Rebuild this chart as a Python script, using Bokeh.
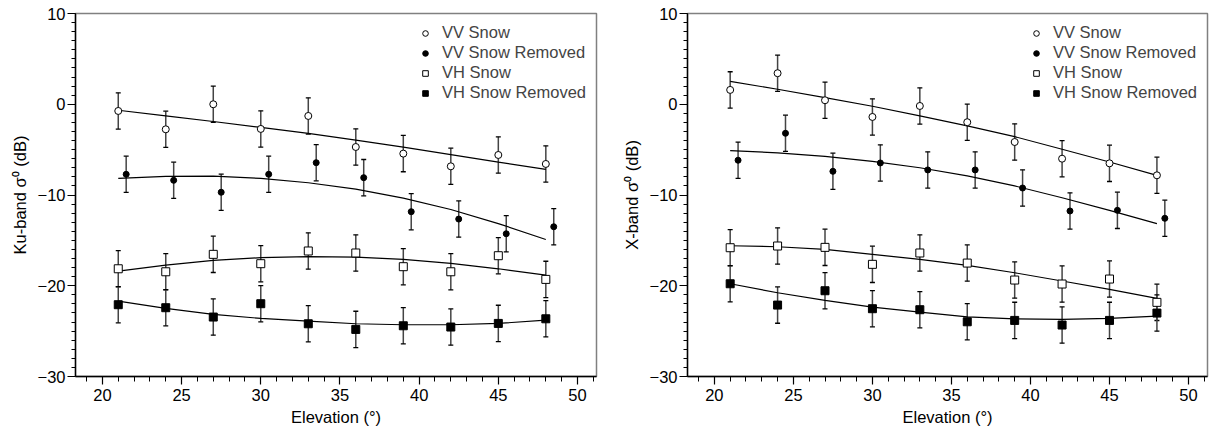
from bokeh.plotting import figure
from bokeh.layouts import row
from bokeh.models import (ColumnDataSource, Whisker, TeeHead, FixedTicker,
                          Legend, LegendItem, Range1d)
from bokeh.embed import file_html
from bokeh.resources import INLINE

# ---------------- data ----------------
elev = [21, 24, 27, 30, 33, 36, 39, 42, 45, 48]
elev_removed = [21.5, 24.5, 27.5, 30.5, 33.5, 36.5, 39.5, 42.5, 45.5, 48.5]
err = [2.0, 2.0, 2.0, 2.0, 2.0, 2.0, 2.0, 2.0, 2.0, 2.0]

# Ku-band sigma0 (dB)
ku_vv_snow = [-0.74, -2.76, 0.0, -2.72, -1.29, -4.71, -5.44, -6.84, -5.59, -6.58]
ku_vv_removed = [-7.72, -8.38, -9.70, -7.72, -6.44, -8.09, -11.84, -12.65, -14.27, -13.50]
ku_vh_snow = [-18.13, -18.46, -16.54, -17.57, -16.17, -16.39, -17.90, -18.46, -16.69, -19.30]
ku_vh_removed = [-22.09, -22.42, -23.45, -21.98, -24.19, -24.81, -24.41, -24.55, -24.15, -23.64]
# Ku-band fitted curves (read at elev)
ku_vv_snow_fit = [-0.66, -1.28, -1.90, -2.55, -3.20, -3.95, -4.72, -5.55, -6.38, -7.17]
ku_vv_removed_fit = [-8.16, -7.95, -7.92, -8.17, -8.65, -9.35, -10.35, -11.60, -13.15, -14.90]
ku_vh_snow_fit = [-18.38, -17.72, -17.20, -16.91, -16.80, -16.84, -17.10, -17.53, -18.13, -18.82]
ku_vh_removed_fit = [-21.69, -22.49, -23.15, -23.60, -23.90, -24.19, -24.30, -24.30, -24.15, -23.78]

# X-band sigma0 (dB)
x_vv_snow = [1.58, 3.42, 0.44, -1.40, -0.19, -1.98, -4.16, -6.00, -6.51, -7.83]
x_vv_removed = [-6.17, -3.20, -7.39, -6.47, -7.24, -7.24, -9.23, -11.76, -11.69, -12.57]
x_vh_snow = [-15.81, -15.62, -15.77, -17.64, -16.39, -17.50, -19.37, -19.81, -19.26, -21.83]
x_vh_removed = [-19.78, -22.13, -20.55, -22.53, -22.64, -23.97, -23.82, -24.33, -23.82, -23.01]
# X-band fitted curves (read at elev)
x_vv_snow_fit = [2.53, 1.65, 0.73, -0.22, -1.29, -2.39, -3.57, -4.96, -6.36, -7.83]
x_vv_removed_fit = [-5.10, -5.35, -5.75, -6.30, -7.00, -7.90, -9.00, -10.30, -11.70, -13.15]
x_vh_snow_fit = [-15.59, -15.70, -15.99, -16.54, -17.09, -17.75, -18.57, -19.48, -20.40, -21.39]
x_vh_removed_fit = [-19.78, -20.77, -21.61, -22.35, -22.90, -23.42, -23.64, -23.71, -23.60, -23.34]

series_labels = ["VV Snow", "VV Snow Removed", "VH Snow", "VH Snow Removed"]
x_ticks = [20, 25, 30, 35, 40, 45, 50]
x_minor = list(range(19, 52))
y_ticks = [-30, -20, -10, 0, 10]
y_tick_labels = ["\u221230", "\u221220", "\u221210", "0", "10"]
y_minor = list(range(-30, 11))

FONT = "Liberation Sans"
FS = "16.5px"


def make_panel(ylabel, vv_s, vv_r, vh_s, vh_r, fits, left_border, right_border, fw):
    p = figure(frame_width=fw, frame_height=363,
               x_range=Range1d(18.3, 51.2), y_range=Range1d(-30, 10),
               output_backend="svg", toolbar_location=None,
               min_border_left=left_border, min_border_right=right_border,
               min_border_top=13, min_border_bottom=45,
               background_fill_color="white", border_fill_color="white")
    p.grid.visible = False
    p.outline_line_color = "#808080"
    p.outline_line_width = 1.5

    p.xaxis.ticker = FixedTicker(ticks=x_ticks, minor_ticks=x_minor)
    p.yaxis.ticker = FixedTicker(ticks=y_ticks, minor_ticks=y_minor)
    p.yaxis.major_label_overrides = dict(zip(y_ticks, y_tick_labels))
    p.xaxis.axis_label = "Elevation (\u00b0)"
    p.yaxis.axis_label = ylabel
    for ax in (p.xaxis[0], p.yaxis[0]):
        ax.axis_line_color = "black"
        ax.axis_line_width = 1.4
        ax.major_tick_line_color = "black"
        ax.minor_tick_line_color = "black"
        ax.major_tick_line_width = 1.2
        ax.minor_tick_line_width = 1.0
        ax.major_tick_in = 0
        ax.minor_tick_in = 0
        ax.major_tick_out = 8
        ax.minor_tick_out = 4
        ax.major_label_text_font = FONT
        ax.major_label_text_font_size = FS
        ax.major_label_text_color = "black"
        ax.axis_label_text_font = FONT
        ax.axis_label_text_font_size = FS
        ax.axis_label_text_font_style = "normal"
        ax.axis_label_text_color = "black"
    p.xaxis.major_label_standoff = 4
    p.xaxis.axis_label_standoff = 4
    p.yaxis.major_label_standoff = 2
    p.yaxis.axis_label_standoff = 6
    p.xaxis.minor_tick_out = 5

    # fitted curves
    for f in fits:
        p.line(elev, f, line_color="black", line_width=1.2)

    specs = [
        (elev, vv_s, "circle", 7, "white"),
        (elev_removed, vv_r, "circle", 6, "black"),
        (elev, vh_s, "square", 8, "white"),
        (elev, vh_r, "square", 8, "black"),
    ]
    renderers = []
    for xs, ys, mk, sz, fc in specs:
        src = ColumnDataSource(dict(x=xs, y=ys,
                                    upper=[v + e for v, e in zip(ys, err)],
                                    lower=[v - e for v, e in zip(ys, err)]))
        w = Whisker(base="x", upper="upper", lower="lower", source=src,
                    line_color="#444444", line_width=1.5,
                    upper_head=TeeHead(size=5, line_color="black", line_width=1.3),
                    lower_head=TeeHead(size=5, line_color="black", line_width=1.3))
        p.add_layout(w)
        r = p.scatter("x", "y", source=src, marker=mk, size=sz, fill_color=fc,
                      line_color="black", line_width=1)
        renderers.append(r)

    legend = Legend(items=[LegendItem(label=l, renderers=[r])
                           for l, r in zip(series_labels, renderers)],
                    location="top_right", border_line_alpha=0,
                    background_fill_alpha=0, label_text_font=FONT,
                    label_text_font_size=FS, glyph_width=18, glyph_height=14,
                    label_height=14, spacing=1, label_standoff=8,
                    padding=6, margin=4)
    p.add_layout(legend)
    return p


p1 = make_panel("Ku-band \u03c3\u2070 (dB)", ku_vv_snow, ku_vv_removed,
                ku_vh_snow, ku_vh_removed,
                [ku_vv_snow_fit, ku_vv_removed_fit, ku_vh_snow_fit, ku_vh_removed_fit],
                75, 19, 521)
p2 = make_panel("X-band \u03c3\u2070 (dB)", x_vv_snow, x_vv_removed,
                x_vh_snow, x_vh_removed,
                [x_vv_snow_fit, x_vv_removed_fit, x_vh_snow_fit, x_vh_removed_fit],
                72, 2, 520)

layout = row(p1, p2)
open("out.html", "w").write(file_html(layout, INLINE))
